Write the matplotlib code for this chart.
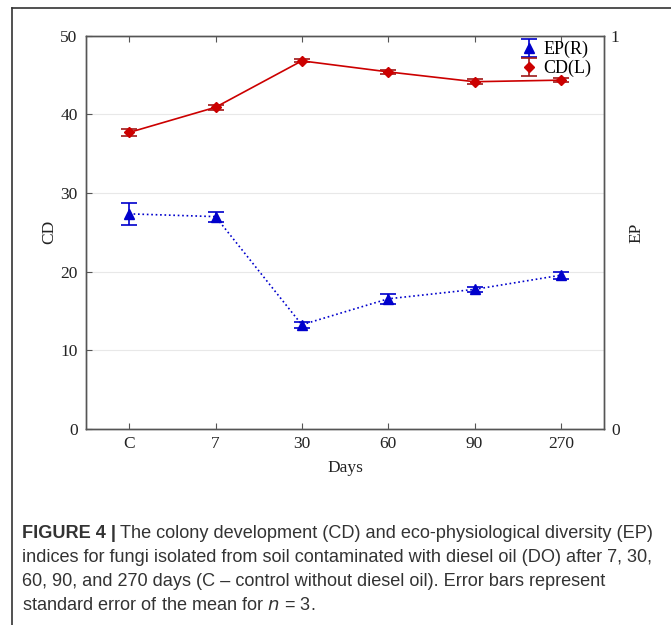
import matplotlib
matplotlib.use('Agg')
import matplotlib.pyplot as plt
from matplotlib.lines import Line2D

# data
days = ['C', '7', '30', '60', '90', '270']
cd_mean = [37.7, 40.9, 46.8, 45.4, 44.15, 44.35]
cd_err = [0.5, 0.3, 0.2, 0.25, 0.3, 0.25]
ep_mean = [0.547, 0.540, 0.265, 0.331, 0.355, 0.391]
ep_err = [0.028, 0.013, 0.008, 0.012, 0.007, 0.009]

W, H = 671, 625
fig = plt.figure(figsize=(W / 100, H / 100), dpi=100)

serif = ['Liberation Serif', 'DejaVu Serif']
sans = ['Liberation Sans', 'DejaVu Sans']

# outer frame of the figure panel
fig.add_artist(Line2D([12 / W, 12 / W], [0, 1 - 8 / H], color='#333333', lw=1.2))
fig.add_artist(Line2D([12 / W, 1], [1 - 8 / H, 1 - 8 / H], color='#333333', lw=1.2))

ax = fig.add_axes([86 / W, (H - 429) / H, 518 / W, 393.3 / H])
ax2 = ax.twinx()

x = list(range(len(days)))

ax.errorbar(x, cd_mean, yerr=cd_err, color='#cc0000', ecolor='#a01818', marker='D',
            markersize=5, lw=1.2, elinewidth=1.2, capsize=6, capthick=1.2,
            label='CD(L)', zorder=3)
ax2.errorbar(x, ep_mean, yerr=ep_err, color='#0000cc', ecolor='#0000cc', marker='^',
             markersize=7, lw=1.2, ls=':', elinewidth=1.2, capsize=6, capthick=1.2,
             label='EP(R)', zorder=3)

ax.set_xlim(-0.5, 5.5)
ax.set_ylim(0, 50)
ax2.set_ylim(0, 1)
ax.set_xticks(x)
ax.set_xticklabels(days)
ax.set_yticks([0, 10, 20, 30, 40, 50])
ax2.set_yticks([0, 1])
ax.grid(axis='y', color='#e8e8e8', lw=0.8)
ax.set_axisbelow(True)

for a in (ax, ax2):
    for s in a.spines.values():
        s.set_color('#555555')
        s.set_linewidth(1.0)
ax.tick_params(axis='x', direction='in', top=True, length=4, color='#555555', pad=5)
ax.tick_params(axis='y', direction='in', length=4, color='#555555', pad=6)
ax2.tick_params(axis='y', length=0, pad=5)
for lab in ax.get_xticklabels() + ax.get_yticklabels() + ax2.get_yticklabels():
    lab.set_family(serif)
    lab.set_fontsize(12.5)
    lab.set_color('#222222')

ax.set_xlabel('Days', family=serif, fontsize=12.5, color='#222222', labelpad=6)
ax.set_ylabel('CD', family=serif, fontsize=12.5, color='#222222', labelpad=2)
ax2.set_ylabel('EP', family=serif, fontsize=12.5, color='#222222', labelpad=6)

h1, l1 = ax2.get_legend_handles_labels()
h2, l2 = ax.get_legend_handles_labels()
leg = ax2.legend(h1 + h2, l1 + l2, loc='upper right', frameon=False,
                 prop={'family': serif, 'size': 13}, handlelength=0.01,
                 handletextpad=0.8, labelspacing=0.1, borderaxespad=0.0,
                 bbox_to_anchor=(0.99, 1.005))

# caption
lines = [
    'The colony development (CD) and eco-physiological diversity (EP)',
    'indices for fungi isolated from soil contaminated with diesel oil (DO) after 7, 30,',
    '60, 90, and 270 days (C \u2013 control without diesel oil). Error bars represent',
]
ys = [534, 558, 581, 605]
fs = 13.1
t = fig.text(22 / W, 1 - ys[0] / H, 'FIGURE 4 |', family=sans, fontsize=fs,
             weight='bold', color='#333333', va='center')
fig.canvas.draw()
bb = t.get_window_extent()
fig.text((bb.x1 + 4) / W, 1 - ys[0] / H, lines[0], family=sans, fontsize=fs,
         color='#333333', va='center')
for yy, s in zip(ys[1:], lines[1:]):
    fig.text(22 / W, 1 - yy / H, s, family=sans, fontsize=fs, color='#333333', va='center')
fig.text(22 / W, 1 - ys[3] / H, r'standard error of the mean for $n$ = 3.', family=sans,
         fontsize=fs, color='#333333', va='center')

fig.savefig('out.png', dpi=100)
